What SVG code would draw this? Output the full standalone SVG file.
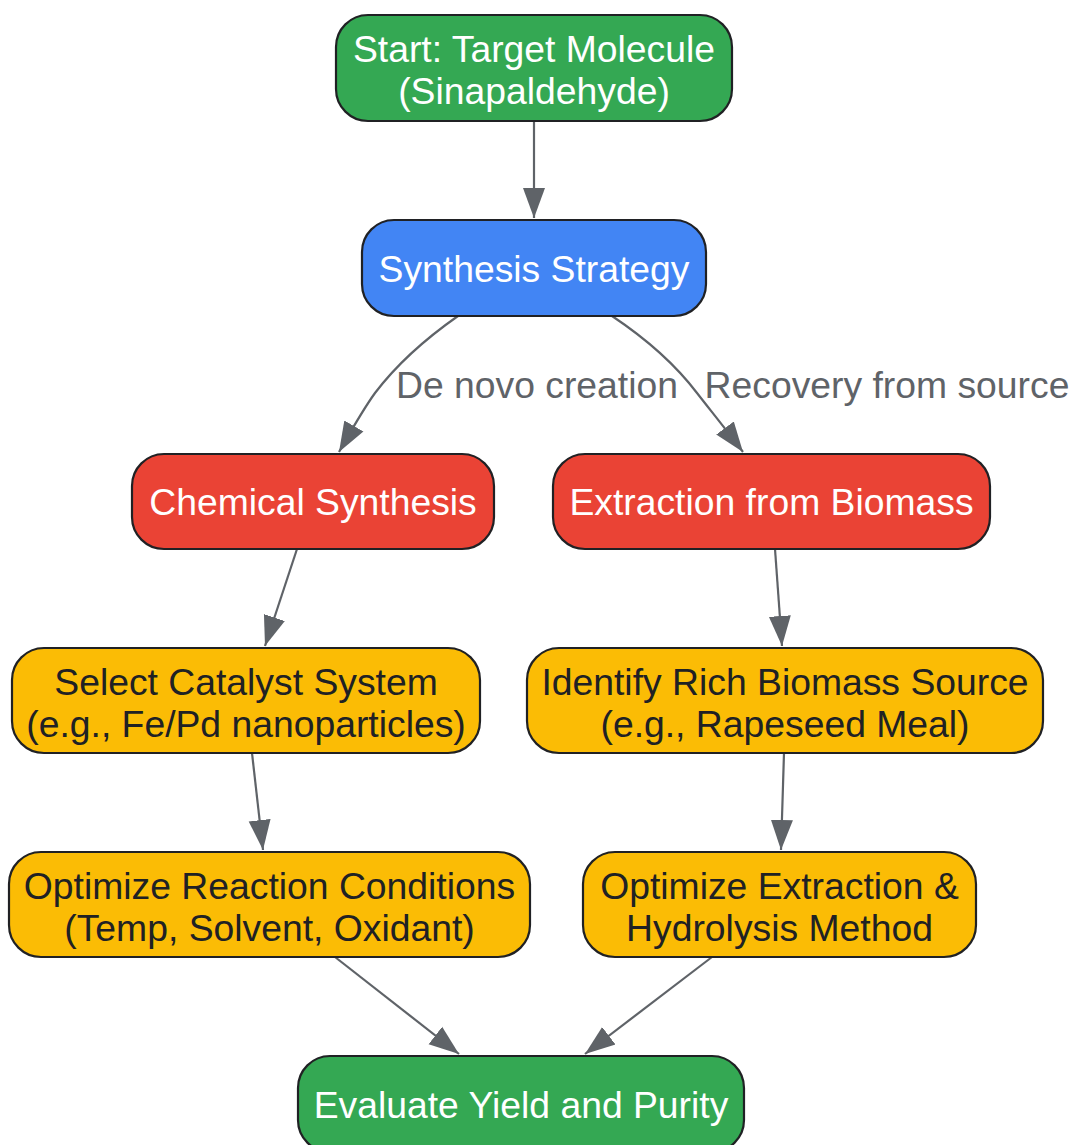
<svg xmlns="http://www.w3.org/2000/svg" width="1070" height="1145" viewBox="0 0 1070 1145">
<defs>
<style>
.n rect{stroke:#202124;stroke-width:2.2}
.g rect{fill:#34a853}
.b rect{fill:#4285f4}
.r rect{fill:#ea4335}
.y rect{fill:#fbbc05}
text{font-family:"Liberation Sans",Arial,sans-serif;font-size:37.3px;text-anchor:middle}
.g text,.b text,.r text{fill:#ffffff}
.y text{fill:#202124}
.e path{fill:none;stroke:#5f6368;stroke-width:2.2}
.lbl{fill:#5f6368}
</style>
<marker id="ah" markerUnits="userSpaceOnUse" markerWidth="32" markerHeight="24" refX="30" refY="11" orient="auto" viewBox="0 0 32 22">
<path d="M0,0 L30,11 L0,22 Z" fill="#5f6368"/>
</marker>
</defs>
<rect width="1070" height="1145" fill="#ffffff"/>
<g id="edges" class="e">
<path d="M534,121 L534,218" marker-end="url(#ah)"/>
<path d="M458,316 C418,344 394,368 375,393 C362,411 351,431 339,452" marker-end="url(#ah)"/>
<path d="M612,316 C654,344 678,368 697,393 C711,411 728,432 743,452" marker-end="url(#ah)"/>
<path d="M297,549 L265,646" marker-end="url(#ah)"/>
<path d="M775,549 L782,646" marker-end="url(#ah)"/>
<path d="M252,753 L263,850" marker-end="url(#ah)"/>
<path d="M784,753 L781,850" marker-end="url(#ah)"/>
<path d="M335,957 L459,1054" marker-end="url(#ah)"/>
<path d="M712,957 L585,1054" marker-end="url(#ah)"/>
<text class="lbl" x="537" y="398">De novo creation</text>
<text class="lbl" x="887" y="398">Recovery from source</text>
</g>
<g id="start" class="n g"><rect x="336" y="15" width="396" height="106" rx="32"/><text x="534" y="62">Start: Target Molecule</text><text x="534" y="104">(Sinapaldehyde)</text></g>
<g id="strategy" class="n b"><rect x="362" y="220" width="344" height="96" rx="32"/><text x="534" y="282">Synthesis Strategy</text></g>
<g id="chem" class="n r"><rect x="132" y="454" width="362" height="95" rx="32"/><text x="313" y="515">Chemical Synthesis</text></g>
<g id="extract" class="n r"><rect x="553" y="454" width="437" height="95" rx="32"/><text x="771.5" y="515">Extraction from Biomass</text></g>
<g id="catalyst" class="n y"><rect x="12" y="648" width="468" height="105" rx="32"/><text x="246" y="695">Select Catalyst System</text><text x="246" y="737">(e.g., Fe/Pd nanoparticles)</text></g>
<g id="biomass" class="n y"><rect x="527" y="648" width="516" height="105" rx="32"/><text x="785" y="695">Identify Rich Biomass Source</text><text x="785" y="737">(e.g., Rapeseed Meal)</text></g>
<g id="reaction" class="n y"><rect x="9" y="852" width="521" height="105" rx="32"/><text x="269.5" y="899">Optimize Reaction Conditions</text><text x="269.5" y="941">(Temp, Solvent, Oxidant)</text></g>
<g id="hydrolysis" class="n y"><rect x="583" y="852" width="393" height="105" rx="32"/><text x="779.5" y="899">Optimize Extraction &amp;</text><text x="779.5" y="941">Hydrolysis Method</text></g>
<g id="evaluate" class="n g"><rect x="298" y="1056" width="446" height="96" rx="32"/><text x="521" y="1118">Evaluate Yield and Purity</text></g>
</svg>
